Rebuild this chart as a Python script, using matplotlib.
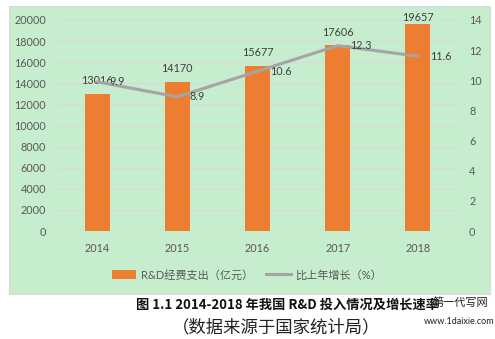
import matplotlib
matplotlib.use("Agg")
import matplotlib.pyplot as plt
from matplotlib.patches import Rectangle
from matplotlib.lines import Line2D
from matplotlib.patches import Patch

plt.rcParams['font.family'] = ['Lato', 'Noto Sans CJK SC', 'DejaVu Sans']

years = ["2014", "2015", "2016", "2017", "2018"]
rd_spend = [13016, 14170, 15677, 17606, 19657]
growth = [9.9, 8.9, 10.6, 12.3, 11.6]
bar_label = "R&D经费支出（亿元）"
line_label = "比上年增长（%）"
caption1 = "图 1.1 2014-2018 年我国 R&D 投入情况及增长速率"
caption2 = "（数据来源于国家统计局）"

W, H = 495, 339
fig = plt.figure(figsize=(W / 100, H / 100), dpi=100)
fig.patch.set_facecolor("white")

bg = "#C6EDCD"
fig.patches.append(Rectangle((9 / W, 1 - 294 / H), 481 / W, 288 / H,
                             transform=fig.transFigure, facecolor=bg,
                             edgecolor="#D9D9D9", linewidth=0.8, zorder=-5))

ax = fig.add_axes([57 / W, 1 - 231 / H, 401 / W, 211 / H])
ax.set_facecolor("none")
x = list(range(len(years)))
ax.bar(x, rd_spend, width=0.31, color="#ED7D31", zorder=3)
ax.set_xlim(-0.5, len(years) - 0.5)
ax.set_ylim(0, 20000)
ax.set_yticks(range(0, 20001, 2000))
ax.set_xticks(x)
ax.set_xticklabels(years)
ax.grid(axis="y", color="#D9D9D9", linewidth=0.8, zorder=0)
for s in ax.spines.values():
    s.set_visible(False)
ax.tick_params(length=0, labelsize=7.8, colors="#595959")
ax.tick_params(axis="x", pad=9)
ax.tick_params(axis="y", pad=8)
for xi, v in zip(x, rd_spend):
    ly = min(v + 1230, 20190)
    ax.text(xi, ly, f"{v}", ha="center", va="center", fontsize=7.8,
            color="#404040", zorder=5, clip_on=False)

ax2 = ax.twinx()
ax2.set_facecolor("none")
ax2.plot(x, growth, color="#A5A5A5", linewidth=2.2, zorder=4, solid_capstyle="round")
ax2.set_ylim(0, 14)
ax2.set_yticks(range(0, 15, 2))
for s in ax2.spines.values():
    s.set_visible(False)
ax2.tick_params(length=0, labelsize=7.8, colors="#595959", pad=8)
for xi, v in zip(x, growth):
    ax2.annotate(f"{v}", (xi, v), xytext=(9, 0), textcoords="offset points",
                 ha="left", va="center", fontsize=7.8, color="#404040", zorder=5)

handles = [Patch(facecolor="#ED7D31", edgecolor="none"),
           Line2D([0], [0], color="#A5A5A5", linewidth=2.2)]
fig.legend(handles, [bar_label, line_label], loc="center",
           bbox_to_anchor=(247 / W, 1 - 275 / H), ncol=2, frameon=False,
           fontsize=8, handlelength=2.2, handleheight=0.8, columnspacing=1.2,
           handletextpad=0.4, labelcolor="#595959")

fig.text(287 / W, 1 - 305 / H, caption1, ha="center", va="center",
         fontsize=9.5, fontweight="bold", color="#111111",
         family=['Noto Sans CJK SC', 'DejaVu Sans'])
fig.text(276 / W, 1 - 327 / H, caption2, ha="center", va="center",
         fontsize=12.5, color="#222222", fontweight="light",
         family=['Noto Sans CJK SC', 'DejaVu Sans'])
fig.text(460 / W, 1 - 303 / H, "第一代写网", ha="center", va="center",
         fontsize=8, color="#222222", family=['Noto Sans CJK SC', 'DejaVu Sans'])
fig.text(459 / W, 1 - 321 / H, "www.1daixie.com", ha="center", va="center",
         fontsize=6.5, color="#222222", family=['Lato'])

fig.savefig("out.png", dpi=100)
